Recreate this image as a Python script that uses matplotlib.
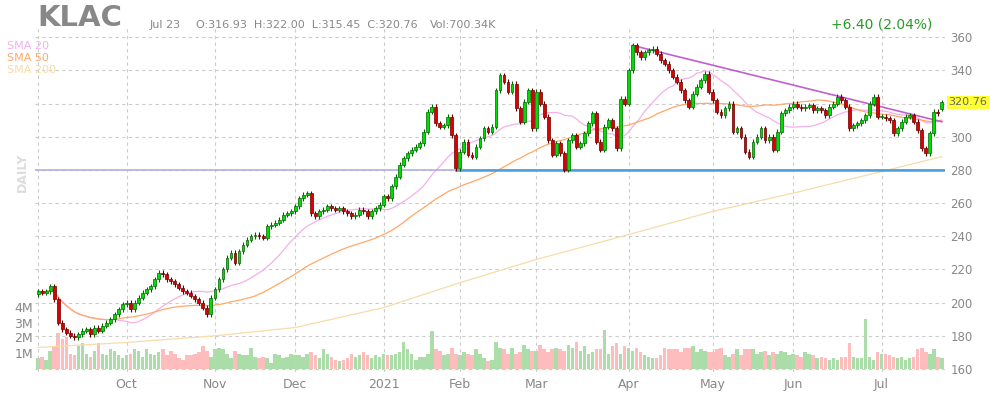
import numpy as np
import pandas as pd
import matplotlib
matplotlib.use("Agg")
import matplotlib.pyplot as plt

holidays = ["2020-09-07", "2020-11-26", "2020-12-25", "2021-01-01", "2021-01-18",
            "2021-02-15", "2021-04-02", "2021-05-31", "2021-07-05"]
dates = pd.bdate_range("2020-08-31", "2021-07-23").drop(pd.to_datetime(holidays))

close_sep = [207, 206, 207, 210, 202, 188, 184, 182, 180, 179, 181, 183, 184, 181, 185, 183, 186, 188, 190, 193, 196, 199]
close_oct = [200, 196, 200, 203, 206, 208, 210, 214, 218, 217, 214, 213, 211, 209, 207, 206, 204, 202, 200, 197, 193, 203]
close_nov = [208, 214, 220, 227, 230, 224, 231, 235, 238, 240, 241, 240, 239, 246, 247, 248, 250, 253, 254, 255]
close_dec = [258, 263, 265, 266, 254, 252, 255, 256, 258, 257, 256, 257, 255, 254, 252, 253, 256, 255, 252, 255, 257, 259]
close_jan = [264, 263, 270, 276, 283, 287, 290, 292, 294, 296, 303, 315, 318, 308, 306, 307, 312, 301, 281]
close_feb = [291, 297, 289, 288, 294, 299, 305, 303, 306, 328, 337, 333, 327, 332, 317, 309, 321, 328, 305]
close_mar = [327, 320, 312, 298, 289, 296, 290, 280, 298, 301, 294, 296, 302, 308, 314, 297, 292, 306, 310, 305, 293, 323, 320]
close_apr = [340, 355, 351, 348, 351, 352, 353, 350, 346, 344, 340, 336, 333, 328, 322, 318, 326, 330, 334, 338, 327]
close_may = [322, 315, 313, 317, 320, 303, 305, 300, 291, 288, 297, 300, 305, 298, 300, 292, 303, 314, 316, 318]
close_jun = [320, 318, 317, 318, 319, 316, 317, 316, 313, 318, 320, 324, 322, 318, 305, 307, 308, 310, 313, 320, 324, 312]
close_jul = [312, 311, 310, 302, 305, 309, 312, 313, 309, 304, 293, 290, 302, 315, 314, 320.76]
closes = np.array(close_sep + close_oct + close_nov + close_dec + close_jan + close_feb +
                  close_mar + close_apr + close_may + close_jun + close_jul, dtype=float)

vol_sep = [0.7, 0.8, 0.6, 1.2, 1.5, 2.4, 2.0, 2.1, 1.0, 0.9, 1.5, 1.7, 1.0, 0.8, 1.2, 1.7, 1.0, 0.9, 1.3, 1.2, 0.9, 0.7]
vol_oct = [0.9, 1.0, 1.3, 1.2, 0.8, 1.3, 1.0, 0.9, 1.1, 1.3, 0.9, 1.2, 1.0, 0.7, 0.6, 0.9, 0.9, 1.0, 1.1, 1.5, 1.2, 0.8]
vol_nov = [1.3, 1.4, 1.3, 1.0, 0.7, 1.2, 1.0, 0.9, 0.9, 1.4, 0.8, 0.7, 0.8, 0.7, 0.4, 1.0, 0.9, 0.7, 0.8, 1.0]
vol_dec = [0.9, 0.9, 0.8, 1.0, 1.1, 0.9, 0.7, 1.3, 1.0, 0.8, 0.6, 0.5, 0.6, 0.7, 1.0, 0.8, 0.9, 1.1, 0.9, 0.7, 0.9, 0.8]
vol_jan = [1.0, 0.9, 0.9, 1.0, 1.1, 1.8, 1.3, 1.0, 0.6, 0.8, 0.8, 1.0, 2.5, 1.3, 1.2, 0.9, 1.0, 1.4, 1.0]
vol_feb = [0.9, 1.1, 1.0, 0.9, 1.3, 1.0, 0.7, 0.5, 0.6, 1.8, 1.4, 1.3, 1.0, 1.4, 1.0, 1.1, 1.6, 1.3, 1.2]
vol_mar = [1.2, 1.6, 1.3, 1.1, 1.3, 1.4, 1.3, 1.2, 1.6, 1.4, 1.8, 1.2, 1.5, 1.0, 1.1, 1.3, 1.3, 2.6, 1.0, 1.5, 1.7, 1.0, 1.5]
vol_apr = [1.4, 1.2, 1.4, 1.1, 0.9, 0.8, 0.7, 0.7, 0.9, 1.4, 1.3, 1.3, 1.3, 1.1, 1.4, 1.4, 1.5, 1.1, 1.3, 1.2, 1.1]
vol_may = [1.1, 1.3, 1.4, 0.9, 0.8, 1.0, 1.3, 0.9, 1.3, 1.3, 1.3, 1.0, 1.1, 1.2, 0.9, 1.1, 1.0, 1.2, 1.1, 0.9]
vol_jun = [1.0, 0.9, 0.8, 1.1, 1.0, 0.9, 0.7, 0.8, 0.7, 0.6, 0.7, 0.6, 0.8, 0.8, 1.7, 0.8, 0.7, 0.7, 3.3, 0.8, 0.6, 1.1]
vol_jul = [1.0, 1.0, 0.9, 0.8, 0.7, 0.8, 0.6, 0.7, 0.8, 1.3, 1.4, 1.1, 1.0, 1.3, 0.8, 0.7]
volumes = np.array(vol_sep + vol_oct + vol_nov + vol_dec + vol_jan + vol_feb + vol_mar +
                   vol_apr + vol_may + vol_jun + vol_jul)

sma200_dates = pd.to_datetime(["2020-08-31", "2020-10-01", "2020-11-02", "2020-12-01", "2021-01-04",
                               "2021-02-01", "2021-03-01", "2021-04-01", "2021-05-03", "2021-06-01",
                               "2021-07-01", "2021-07-23"])
sma200_vals = [173, 176, 180, 185, 197, 212, 226, 241, 255, 266, 279, 288]

price_ticks = list(range(160, 361, 20))

n = len(dates)
x = np.arange(n)
opens = np.concatenate([[closes[0] - 2], closes[:-1]])
opens[-1] = 316.93
highs = np.maximum(opens, closes) + 1.5
lows = np.minimum(opens, closes) - 1.5
up = closes >= opens

s = pd.Series(closes)
sma20 = s.rolling(20, min_periods=1).mean()
sma50 = s.rolling(50, min_periods=1).mean()
idx_of = {d: i for i, d in enumerate(dates)}
sma200_x = [idx_of[d] for d in sma200_dates]

fig = plt.figure(figsize=(9.9, 4.0), dpi=100)
ax = fig.add_axes([35 / 990, 28 / 400, 910 / 990, 344 / 400])
ax.set_xlim(-0.8, n - 0.2)
ax.set_ylim(158.2, 365.5)

for v in price_ticks:
    ax.axhline(v, color="#cccccc", lw=0.8, ls=(0, (3, 3)), zorder=0)
month_starts = [i for i in range(1, n) if dates[i].month != dates[i - 1].month]
month_starts = [i for i in month_starts if dates[i].month != 9]
for i in month_starts:
    ax.axvline(i, color="#cccccc", lw=0.8, ls=(0, (3, 3)), zorder=0)
ax.axvline(0, color="#cccccc", lw=0.8, ls=(0, (3, 3)), zorder=0)

vax = ax.twinx()
vax.set_ylim(-0.2, 22.7)
vax.bar(x, volumes, width=0.9, color=np.where(up, "#aadda8", "#ffbcbc"), zorder=1)
vax.set_yticks([])
for m in [1, 2, 3, 4]:
    fig.text(33 / 990, 1 - (369 - 15 * m) / 400, f"{m}M", ha="right", va="center",
             fontsize=9, color="#888888")

ax.set_zorder(vax.get_zorder() + 1)
ax.patch.set_visible(False)

ax.plot(x, sma20, color="#f4b0ea", lw=0.9, zorder=2)
ax.plot(x, sma50, color="#ffa868", lw=0.9, zorder=2)
ax.plot(sma200_x, sma200_vals, color="#f7dca8", lw=0.9, zorder=2)
ax.axhline(280, color="#b0b0e4", lw=1.2, zorder=2)
jan29 = idx_of[pd.Timestamp("2021-01-29")]
ax.plot([jan29, n - 0.2], [280, 280], color="#4a9ee0", lw=1.8, zorder=2)
apr5 = idx_of[pd.Timestamp("2021-04-05")]
ax.plot([apr5, n - 1], [355, 309], color="#c060d0", lw=1.2, zorder=3)

for i in x:
    c = "#00dd00" if up[i] else "#dd0000"
    e = "#006600" if up[i] else "#660000"
    ax.vlines(i, lows[i], highs[i], color=e, lw=0.8, zorder=4)
    b = min(opens[i], closes[i])
    h = max(abs(closes[i] - opens[i]), 0.4)
    ax.bar(i, h, bottom=b, width=0.7, color=c, edgecolor=e, lw=0.5, zorder=5)

ax.set_xticks(month_starts)
labels = ["2021" if dates[i].month == 1 else dates[i].strftime("%b") for i in month_starts]
ax.set_xticklabels(labels, fontsize=9, color="#888888")
ax.yaxis.tick_right()
ax.set_yticks(price_ticks)
ax.set_yticklabels(["" if v == 320 else str(v) for v in price_ticks], fontsize=8.5, color="#888888")
ax.tick_params(length=0, pad=4)
for sp in ax.spines.values():
    sp.set_visible(False)
for sp in vax.spines.values():
    sp.set_visible(False)

ax.text(n + 0.6, closes[-1], "320.76", ha="left", va="center", fontsize=8, color="#666666",
        bbox=dict(boxstyle="square,pad=0.15", fc="#ffff33", ec="none"), zorder=6)

fig.text(37 / 990, 1 - 18 / 400, "KLAC", fontsize=21, fontweight="bold", color="#888888", va="center")
fig.text(150 / 990, 1 - 25 / 400, "Jul 23", fontsize=8, color="#888888", va="center")
fig.text(196 / 990, 1 - 25 / 400, "O:316.93  H:322.00  L:315.45  C:320.76", fontsize=8,
         color="#888888", va="center")
fig.text(430 / 990, 1 - 25 / 400, "Vol:700.34K", fontsize=8, color="#888888", va="center")
fig.text(932 / 990, 1 - 25 / 400, "+6.40 (2.04%)", fontsize=10, color="#2a9a2a", ha="right", va="center")
fig.text(7 / 990, 1 - 46 / 400, "SMA 20", fontsize=8, color="#f4b0ea", va="center")
fig.text(7 / 990, 1 - 58 / 400, "SMA 50", fontsize=8, color="#ffa868", va="center")
fig.text(7 / 990, 1 - 70 / 400, "SMA 200", fontsize=8, color="#f7dca8", va="center")
fig.text(22 / 990, 1 - 172 / 400, "DAILY", fontsize=9, fontweight="bold", color="#dddddd",
         rotation=90, ha="center", va="center")

fig.savefig("out.png", dpi=100)
